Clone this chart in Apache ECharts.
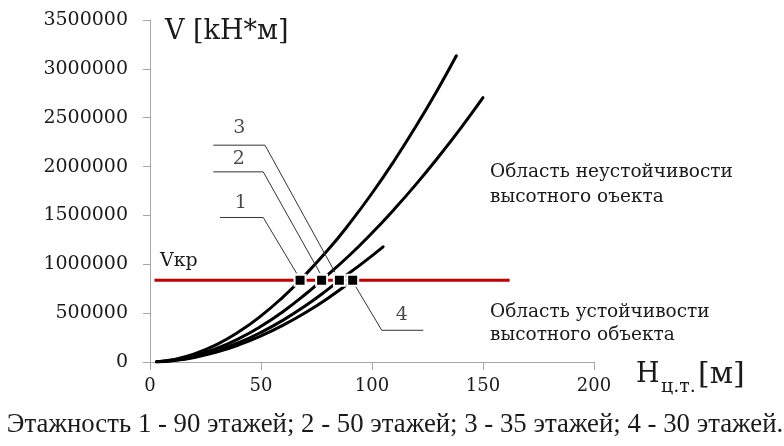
<!DOCTYPE html>
<html>
<head>
<meta charset="utf-8">
<script src="https://cdn.jsdelivr.net/npm/echarts@6/dist/echarts.min.js"></script>
<style>html,body{margin:0;padding:0;background:#fff}#c{width:784px;height:446px}</style>
</head>
<body>
<div id="c"></div>
<script>
// Curve data (H, m ; V, kH*m)
const H1 = [3,10,20,30,40,50,60,67.6,80,90,100,110,120,130,138];
const V1 = [2250,22200,82800,178700,308800,471800,667100,836800,1142700,1420900,1727000,2059900,2419500,2805300,3133500];
const H2 = [3,10,20,30,40,50,60,70,77.3,90,100,110,120,130,140,150];
const V2 = [1740,17200,64100,138600,239300,365700,517100,693000,836800,1095300,1320000,1562600,1822600,2100200,2394200,2705600];
const H3 = [3,10,20,30,40,50,60,70,80,85.3,95,105];
const V3 = [1450,14300,53200,114900,198500,303300,428900,574800,740800,836800,999600,1179000];
const H4 = [3,10,20,30,40,50,60,70,80,91.3];
const V4 = [1270,12500,46700,101000,174500,266500,376900,505100,651000,836800];
// Critical moment line and intersection points
const vCr = 836800;
const crLineH = [2, 162];
const crossH = [67.6, 77.3, 85.3, 91.3];
// Axis ticks
const yTicks = [0,500000,1000000,1500000,2000000,2500000,3000000,3500000];
const xTicks = [0,50,100,150,200];
// Curve label numbers and their leader paths
const labelNames = ['3','2','1','4'];
const labelPts = [[40.2,2392000],[40.0,2073000],[40.9,1629000],[113.4,478000]];
const leaderPaths = [
  [[28.5,2219000],[51.8,2219000],[83.3,918800]],
  [[28.5,1946000],[51.0,1946000],[76.6,908600]],
  [[31.5,1479000],[51.0,1479000],[66.1,905500]],
  [[92.3,785600],[104.4,324700],[123.1,324700]]
];

const zip = (a,b) => a.map((v,i)=>[v,b[i]]);
const curveSeries = [[H1,V1],[H2,V2],[H3,V3],[H4,V4]].map(([h,v]) => ({
  type:'line', data: zip(h,v), smooth:true, symbol:'none', z:3,
  lineStyle:{color:'#000', width:3, cap:'round'}
}));
const leaderSeries = leaderPaths.map(p => ({
  type:'line', data:p, symbol:'none', z:4, silent:true,
  lineStyle:{color:'#333', width:1}
}));

const serif = '"DejaVu Serif", "Liberation Serif", serif';
const richT = (size) => ({t:{fontFamily:serif, fontSize:size, color:'#1a1a1a'}});
const chart = echarts.init(document.getElementById('c'));
chart.setOption({
  animation:false,
  textStyle:{fontFamily:serif},
  grid:{left:150, right:190, top:20, bottom:84},
  xAxis:{type:'value', min:0, max:200, interval:50,
    axisLine:{show:true, lineStyle:{color:'#a6a6a6', width:1}},
    axisTick:{show:true, length:8, lineStyle:{color:'#a6a6a6'}},
    splitLine:{show:false},
    axisLabel:{margin:15, fontFamily:serif, fontSize:18, color:'#1a1a1a', rich:richT(18),
      formatter:v => xTicks.includes(v) ? '{t|' + v + '}' : ''}},
  yAxis:{type:'value', min:0, max:3500000, interval:500000,
    axisLine:{show:true, lineStyle:{color:'#a6a6a6', width:1}},
    axisTick:{show:true, length:7, lineStyle:{color:'#a6a6a6'}},
    splitLine:{show:false},
    axisLabel:{margin:22, fontFamily:serif, fontSize:19, color:'#1a1a1a', rich:richT(19),
      formatter:v => yTicks.includes(v) ? '{t|' + v + '}' : ''}},
  series:[
    {type:'line', data:crLineH.map(h=>[h,vCr]), symbol:'none', z:2,
     lineStyle:{color:'#c00000', width:3}},
    ...curveSeries,
    ...leaderSeries,
    {type:'scatter', data:crossH.map(h=>[h,vCr]), symbol:'rect', symbolSize:11, z:6,
     itemStyle:{color:'#000', borderColor:'#fff', borderWidth:2, opacity:1}},
    {type:'scatter', data:labelPts.map((p,i)=>[p[0],p[1],labelNames[i]]), symbolSize:0, z:6,
     label:{show:true, position:'inside', formatter:p=>'{t|' + p.value[2] + '}', rich:richT(19), fontFamily:serif, fontSize:19, color:'#1a1a1a'}}
  ],
  graphic:[
    {type:'text', x:165, y:32, style:{text:'V [kH*м]', font:'27px "DejaVu Serif"', fill:'#1a1a1a', textVerticalAlign:'middle'}},
    {type:'text', x:160, y:261, style:{text:'Vкр', font:'19px "DejaVu Serif"', fill:'#1a1a1a', textVerticalAlign:'middle'}},
    {type:'text', x:490, y:172, style:{text:'Область неустойчивости', font:'18.5px "DejaVu Serif"', fill:'#1a1a1a', textVerticalAlign:'middle'}},
    {type:'text', x:490, y:197, style:{text:'высотного оъекта', font:'18.5px "DejaVu Serif"', fill:'#1a1a1a', textVerticalAlign:'middle'}},
    {type:'text', x:490, y:312, style:{text:'Область устойчивости', font:'18.5px "DejaVu Serif"', fill:'#1a1a1a', textVerticalAlign:'middle'}},
    {type:'text', x:490, y:335, style:{text:'высотного объекта', font:'18.5px "DejaVu Serif"', fill:'#1a1a1a', textVerticalAlign:'middle'}},
    {type:'text', x:636, y:375, style:{text:'H', font:'27px "DejaVu Serif"', fill:'#1a1a1a', textVerticalAlign:'middle'}},
    {type:'text', x:661, y:387, style:{text:'ц.т.', font:'19px "DejaVu Serif"', fill:'#1a1a1a', textVerticalAlign:'middle'}},
    {type:'text', x:698, y:375, style:{text:'[м]', font:'30px "DejaVu Serif"', fill:'#1a1a1a', textVerticalAlign:'middle'}},
    {type:'text', x:395, y:425, style:{text:'Этажность 1 - 90 этажей; 2 - 50 этажей; 3 - 35 этажей; 4 - 30 этажей.', font:'26.8px "Liberation Serif"', fill:'#1a1a1a', textAlign:'center', textVerticalAlign:'middle'}}
  ]
});
</script>
</body>
</html>
